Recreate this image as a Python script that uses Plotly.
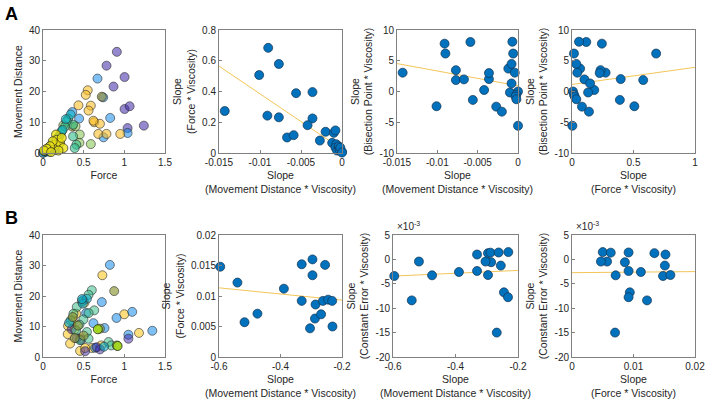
import plotly.graph_objects as go

# ---------------- Panel A data ----------------
# A1: Force vs Movement Distance, grouped by colour
a1_purple_F = [0.908, 0.781, 1.003, 0.867, 1.003, 1.065, 1.04, 1.24]
a1_purple_D = [32.9, 28.4, 24.7, 21.6, 14.3, 15.2, 8.1, 8.9]
a1_blue_F = [0.67, 0.74, 0.826, 1.04, 0.744, 0.444, 0.36, 0.05, 0.09, 0.13]
a1_blue_D = [24.2, 18.1, 11.4, 6.5, 5.1, 11.2, 13.3, 0.6, 1.2, 2.0]
a1_orange_F = [0.55, 0.526, 0.436, 0.588, 0.56, 0.629, 0.70, 0.68, 0.78, 0.95, 0.62]
a1_orange_D = [20.4, 18.9, 15.5, 15.4, 13.8, 10.0, 9.5, 6.2, 6.2, 6.2, 10.5]
a1_olive_F = [0.723, 0.36, 0.2]
a1_olive_D = [18.3, 8.6, 3.2]
a1_mint_F = [0.31, 0.37, 0.29, 0.27, 0.37, 0.41, 0.39, 0.23, 0.2, 0.17, 0.14]
a1_mint_D = [11.2, 9.2, 10.3, 8.6, 5.4, 2.7, 1.6, 7.1, 5.5, 4.0, 2.5]
a1_green_F = [0.588, 0.452, 0.40, 0.448, 0.25, 0.22]
a1_green_D = [2.9, 6.0, 8.7, 3.3, 9.0, 6.5]
a1_cyan_F = [0.34, 0.28, 0.24, 0.18, 0.12, 0.08, 0.05]
a1_cyan_D = [12.5, 11.0, 7.5, 5.0, 3.2, 2.0, 1.0]
a1_teal_F = [0.025, 0.066, 0.107, 0.127, 0.0, 0.15, 0.19, 0.03, 0.08]
a1_teal_D = [0.3, 1.1, 1.6, 2.5, 0.0, 1.0, 1.4, 0.6, 0.4]
a1_yellow_F = [0.16, 0.17, 0.15, 0.21, 0.25, 0.12, 0.086, 0.045, 0.012, 0.23, 0.19, 0.1]
a1_yellow_D = [6.0, 4.3, 2.7, 3.3, 1.6, 3.8, 2.2, 1.4, 0.8, 4.9, 0.8, 0.3]

# A2-A4: per-subject slopes
a_md_slope = [-0.0143, -0.0101, -0.0090, -0.0091, -0.0077, -0.0077, -0.0067, -0.0059, -0.0056,
              -0.0036, -0.0036, -0.0042, -0.0027, -0.0020, -0.0012, -0.0010, -0.0008, -0.0007,
              -0.0008, -0.0006, -0.0004, 0.0000, -0.0002, -0.0003, -0.0002, 0.0000]
a_force_slope = [0.273, 0.507, 0.684, 0.243, 0.579, 0.232, 0.101, 0.116, 0.389,
                 0.396, 0.225, 0.181, 0.081, 0.138, 0.066, 0.131, 0.147, 0.057,
                 0.035, 0.016, 0.043, 0.008, 0.016, 0.022, 0.035, 0.003]
a_bis_slope = [3.06, -2.40, 6.17, 7.78, 1.86, 3.47, 1.97, 8.05, -1.37,
               2.02, 3.0, 0.24, -2.46, -3.28, 3.72, -0.16, 1.31, 8.09,
               4.48, 6.17, 3.06, 0.0, -0.5, -0.82, -1.26, -5.57]
a2_fit_x = [-0.015, 0.0]
a2_fit_y = [0.565, 0.024]
a3_fit_x = [-0.015, 0.0]
a3_fit_y = [4.54, 0.93]
a4_fit_x = [0.0, 1.0]
a4_fit_y = [1.15, 3.93]

# ---------------- Panel B data ----------------
b1_blue_F = [0.822, 0.723, 0.62, 0.756, 0.904, 1.097, 1.344, 1.05, 0.53, 0.497, 0.64]
b1_blue_D = [30.2, 18.0, 11.1, 9.5, 12.8, 14.8, 8.6, 7.3, 14.4, 18.6, 3.0]
b1_purple_F = [0.353, 0.415, 0.518, 0.70, 1.05, 0.47, 0.66]
b1_purple_D = [9.1, 6.2, 1.9, 2.5, 6.0, 5.6, 3.2]
b1_yellow_F = [0.73, 0.999, 1.18, 0.308, 0.304, 0.333, 0.456, 0.6, 0.715, 0.51, 0.407, 0.366, 0.456, 0.518, 0.39]
b1_yellow_D = [26.8, 14.0, 7.9, 10.2, 7.5, 4.4, 2.0, 2.95, 3.8, 17.8, 14.2, 12.0, 6.0, 2.95, 9.0]
b1_mint_F = [0.6, 0.56, 0.63, 0.477, 0.415, 0.374, 0.34, 0.806, 0.84, 0.56, 0.497, 0.448, 0.407, 0.54, 0.56, 0.456]
b1_mint_D = [21.9, 20.4, 15.3, 18.2, 16.4, 14.2, 12.0, 4.9, 3.8, 14.4, 12.3, 10.6, 8.7, 8.2, 6.0, 5.5]
b1_cyan_F = [0.54, 0.49, 0.32, 0.75, 0.48]
b1_cyan_D = [19.1, 17.5, 11.2, 3.4, 19.0]
b1_olive_F = [0.875, 0.366, 0.70, 0.908, 0.39, 0.43, 0.5]
b1_olive_D = [21.6, 13.1, 9.3, 3.8, 6.2, 10.3, 7.0]
b1_lime_F = [0.674, 0.917]
b1_lime_D = [9.1, 3.6]

b_md_slope = [-0.596, -0.540, -0.517, -0.475, -0.389, -0.331, -0.331, -0.296, -0.296,
              -0.255, -0.286, -0.304, -0.231, -0.288, -0.268, -0.262, -0.245, -0.232]
b_force_slope = [0.0148, 0.0122, 0.0057, 0.0071, 0.0112, 0.0152, 0.0092, 0.0160, 0.0134,
                 0.0151, 0.0086, 0.0047, 0.0050, 0.0063, 0.0070, 0.0092, 0.0094, 0.0092]
b_ce_slope_e3 = [-3.4, -8.4, -0.44, -3.26, -2.58, 1.0, -2.37, -3.2, 1.28,
                 -1.27, -0.58, -0.44, 1.5, 1.38, -15.0, 1.42, -6.75, -7.75]
b2_fit_x = [-0.6, -0.2]
b2_fit_y = [0.01134, 0.00932]
b3_fit_x = [-0.6, -0.2]
b3_fit_y = [-3.42, -2.26]
b4_fit_x = [0.0, 0.02]
b4_fit_y = [-2.72, -2.5]

# ---------------- ticks ----------------
force_ticks = [0, 0.5, 1, 1.5]
force_ticktext = ["0", "0.5", "1", "1.5"]
dist_ticks = [0, 10, 20, 30, 40]
dist_ticktext = ["0", "10", "20", "30", "40"]
amd_ticks = [-0.015, -0.01, -0.005, 0]
amd_ticktext = ["-0.015", "-0.01", "-0.005", "0"]
aforce_ticks = [0, 0.2, 0.4, 0.6, 0.8]
aforce_ticktext = ["0", "0.2", "0.4", "0.6", "0.8"]
bis_ticks = [-10, -5, 0, 5, 10]
bis_ticktext = ["-10", "-5", "0", "5", "10"]
a4x_ticks = [0, 0.5, 1]
a4x_ticktext = ["0", "0.5", "1"]
bmd_ticks = [-0.6, -0.4, -0.2]
bmd_ticktext = ["-0.6", "-0.4", "-0.2"]
bforce_ticks = [0, 0.005, 0.01, 0.015, 0.02]
bforce_ticktext = ["0", "0.005", "0.01", "0.015", "0.02"]
ce_ticks = [-20, -15, -10, -5, 0, 5]
ce_ticktext = ["-20", "-15", "-10", "-5", "0", "5"]
b4x_ticks = [0, 0.01, 0.02]
b4x_ticktext = ["0", "0.01", "0.02"]

FONT = "Liberation Sans, Arial, sans-serif"
TXT = "#262626"
BLUE = "#0072BD"
FIT = "rgba(237,177,32,0.75)"

fig = go.Figure()

def group(x, y, color, xa, ya, edge="rgba(40,40,40,0.85)"):
    fig.add_trace(go.Scatter(x=x, y=y, mode="markers", xaxis=xa, yaxis=ya, cliponaxis=False,
                             marker=dict(size=9, color=color, line=dict(color=edge, width=0.7)),
                             showlegend=False, hoverinfo="x+y"))

def blue(x, y, xa, ya):
    fig.add_trace(go.Scatter(x=x, y=y, mode="markers", xaxis=xa, yaxis=ya, cliponaxis=False,
                             marker=dict(size=9, color=BLUE, line=dict(color="#16324f", width=0.7)),
                             showlegend=False))

def fit(x, y, xa, ya):
    fig.add_trace(go.Scatter(x=x, y=y, mode="lines", xaxis=xa, yaxis=ya,
                             line=dict(color=FIT, width=1), showlegend=False))

# A1
group(a1_purple_F, a1_purple_D, "rgba(62,38,168,0.55)", "x", "y")
group(a1_blue_F, a1_blue_D, "rgba(20,140,235,0.55)", "x", "y")
group(a1_orange_F, a1_orange_D, "rgba(250,190,40,0.6)", "x", "y")
group(a1_olive_F, a1_olive_D, "rgba(150,140,50,0.65)", "x", "y")
group(a1_green_F, a1_green_D, "rgba(140,200,90,0.6)", "x", "y")
group(a1_mint_F, a1_mint_D, "rgba(50,190,140,0.6)", "x", "y")
group(a1_cyan_F, a1_cyan_D, "rgba(10,180,200,0.6)", "x", "y")
group(a1_teal_F, a1_teal_D, "rgba(20,110,140,0.75)", "x", "y")
group(a1_yellow_F, a1_yellow_D, "rgba(235,225,20,0.8)", "x", "y", edge="rgba(30,30,30,0.95)")

# A2-A4
fit(a2_fit_x, a2_fit_y, "x2", "y2")
blue(a_md_slope, a_force_slope, "x2", "y2")
fit(a3_fit_x, a3_fit_y, "x3", "y3")
blue(a_md_slope, a_bis_slope, "x3", "y3")
fit(a4_fit_x, a4_fit_y, "x4", "y4")
blue(a_force_slope, a_bis_slope, "x4", "y4")

# B1
group(b1_yellow_F, b1_yellow_D, "rgba(250,200,40,0.6)", "x5", "y5")
group(b1_blue_F, b1_blue_D, "rgba(20,140,235,0.55)", "x5", "y5")
group(b1_purple_F, b1_purple_D, "rgba(62,38,168,0.5)", "x5", "y5")
group(b1_mint_F, b1_mint_D, "rgba(60,190,140,0.55)", "x5", "y5")
group(b1_cyan_F, b1_cyan_D, "rgba(10,170,200,0.6)", "x5", "y5")
group(b1_olive_F, b1_olive_D, "rgba(140,150,50,0.65)", "x5", "y5")
group(b1_lime_F, b1_lime_D, "rgba(160,220,20,0.85)", "x5", "y5", edge="rgba(20,20,20,1)")

# B2-B4
fit(b2_fit_x, b2_fit_y, "x6", "y6")
blue(b_md_slope, b_force_slope, "x6", "y6")
fit(b3_fit_x, b3_fit_y, "x7", "y7")
blue(b_md_slope, b_ce_slope_e3, "x7", "y7")
fit(b4_fit_x, b4_fit_y, "x8", "y8")
blue(b_force_slope, b_ce_slope_e3, "x8", "y8")

W, H = 707, 403
def dx(a, b):
    return [a / W, b / W]
def dy(top, bot):
    return [1 - bot / H, 1 - top / H]

def axis(domain, rng, tv, tt, title, anchor, standoff=4):
    return dict(domain=domain, range=rng, tickvals=tv, ticktext=tt, anchor=anchor, automargin=False,
                ticks="inside", ticklen=3, tickwidth=0.8, tickcolor="#808080",
                showline=True, linecolor="#808080", linewidth=1, mirror=True,
                showgrid=False, zeroline=False,
                tickfont=dict(family=FONT, size=10, color=TXT),
                title=dict(text=title, font=dict(family=FONT, size=10.5, color=TXT), standoff=standoff))

yA = dy(30, 153)
yB = dy(235, 357)
lay = dict(
    width=W, height=H, margin=dict(l=0, r=0, t=0, b=0, autoexpand=False),
    paper_bgcolor="white", plot_bgcolor="white", showlegend=False,
    xaxis=axis(dx(43, 165), [0, 1.5], force_ticks, force_ticktext, "Force", "y"),
    yaxis=axis(yA, [0, 40], dist_ticks, dist_ticktext, "Movement Distance", "x"),
    xaxis2=axis(dx(219, 342), [-0.015, 0], amd_ticks, amd_ticktext, "Slope<br>(Movement Distance * Viscosity)", "y2"),
    yaxis2=axis(yA, [0, 0.8], aforce_ticks, aforce_ticktext, "Slope<br>(Force * Viscosity)", "x2"),
    xaxis3=axis(dx(397, 518), [-0.015, 0], amd_ticks, amd_ticktext, "Slope<br>(Movement Distance * Viscosity)", "y3"),
    yaxis3=axis(yA, [-10, 10], bis_ticks, bis_ticktext, "Slope<br>(Bisection Point * Viscosity)", "x3"),
    xaxis4=axis(dx(572, 695), [0, 1], a4x_ticks, a4x_ticktext, "Slope<br>(Force * Viscosity)", "y4"),
    yaxis4=axis(yA, [-10, 10], bis_ticks, bis_ticktext, "Slope<br>(Bisection Point * Viscosity)", "x4"),
    xaxis5=axis(dx(43, 165), [0, 1.5], force_ticks, force_ticktext, "Force", "y5"),
    yaxis5=axis(yB, [0, 40], dist_ticks, dist_ticktext, "Movement Distance", "x5"),
    xaxis6=axis(dx(219, 342), [-0.6, -0.2], bmd_ticks, bmd_ticktext, "Slope<br>(Movement Distance * Viscosity)", "y6"),
    yaxis6=axis(yB, [0, 0.02], bforce_ticks, bforce_ticktext, "Slope<br>(Force * Viscosity)", "x6"),
    xaxis7=axis(dx(393, 518), [-0.6, -0.2], bmd_ticks, bmd_ticktext, "Slope<br>(Movement Distance * Viscosity)", "y7"),
    yaxis7=axis(yB, [-20, 5], ce_ticks, ce_ticktext, "Slope<br>(Constant Error * Viscosity)", "x7"),
    xaxis8=axis(dx(572, 695), [0, 0.02], b4x_ticks, b4x_ticktext, "Slope<br>(Force * Viscosity)", "y8"),
    yaxis8=axis(yB, [-20, 5], ce_ticks, ce_ticktext, "Slope<br>(Constant Error * Viscosity)", "x8"),
    annotations=[
        dict(text="<b>A</b>", x=3 / W, y=1 - 2 / H, xref="paper", yref="paper", xanchor="left", yanchor="top",
             showarrow=False, font=dict(family=FONT, size=18, color="black")),
        dict(text="<b>B</b>", x=3 / W, y=1 - 206 / H, xref="paper", yref="paper", xanchor="left", yanchor="top",
             showarrow=False, font=dict(family=FONT, size=18, color="black")),
        dict(text="×10<sup>-3</sup>", x=395 / W, y=1 - 234 / H, xref="paper", yref="paper", xanchor="left", yanchor="bottom",
             showarrow=False, font=dict(family=FONT, size=10, color=TXT)),
        dict(text="×10<sup>-3</sup>", x=574 / W, y=1 - 234 / H, xref="paper", yref="paper", xanchor="left", yanchor="bottom",
             showarrow=False, font=dict(family=FONT, size=10, color=TXT)),
    ],
)
fig.update_layout(**lay)
fig.write_html("out.html", config={"displayModeBar": False},
               post_script="document.body.style.margin='0px';document.body.style.padding='0px';")
